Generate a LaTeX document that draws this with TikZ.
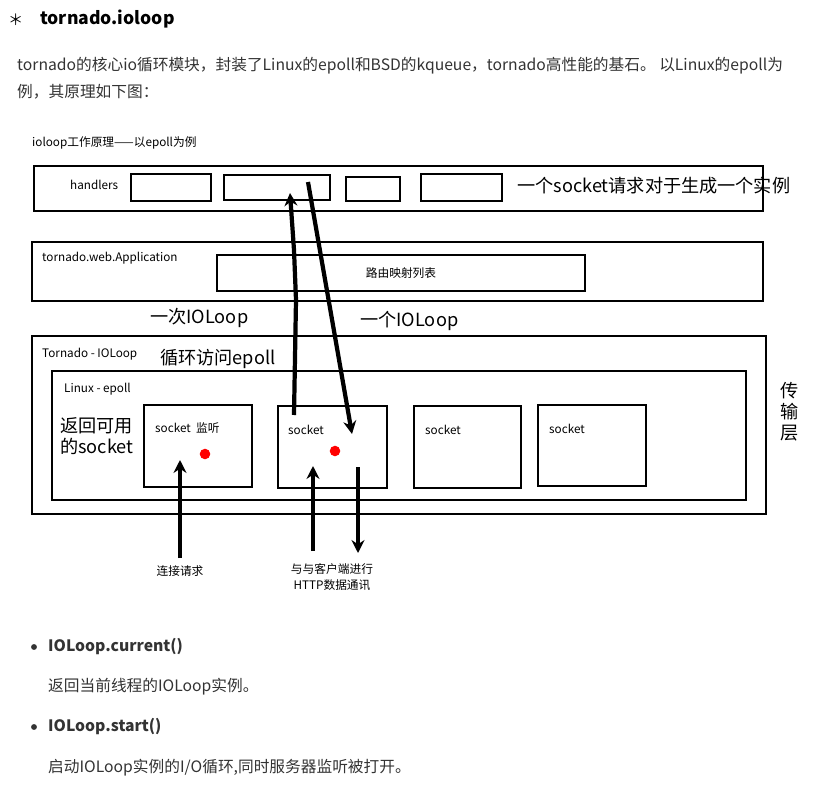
\documentclass[tikz,border=0pt]{standalone}
\usepackage{fontspec}
\setmainfont{Noto Sans CJK SC}
\usetikzlibrary{arrows.meta}

\begin{document}
\begin{tikzpicture}[x=0.03cm, y=-0.03cm]

% styles for boxes, texts and the hand drawn arrows
\tikzset{
  box/.style={draw=black, line width=1.2pt},
  tag/.style={anchor=west, inner sep=0pt, font=\fontsize{10}{12}\selectfont},
  big/.style={anchor=west, inner sep=0pt, font=\fontsize{15.5}{18}\selectfont},
  body/.style={anchor=west, inner sep=0pt, text=black!80, font=\fontsize{13.4}{15}\selectfont},
  push/.style={line width=3.6pt, -{Stealth[length=11pt, width=11pt]}},
  dot/.style={circle, fill=red, inner sep=0pt, minimum size=9pt}
}

\useasboundingbox (0,0) rectangle (837,787);

% page heading and text
\node[anchor=west, inner sep=0pt, font=\fontsize{13}{15}\selectfont] (star) at (8,20) {＊};
\node[anchor=west, inner sep=0pt, font=\bfseries\fontsize{15}{18}\selectfont] (title) at (40,19) {tornado.ioloop};
\node[body] (p1) at (17,66) {tornado的核心io循环模块，封装了Linux的epoll和BSD的kqueue，tornado高性能的基石。 以Linux的epoll为};
\node[body] (p2) at (17,92) {例，其原理如下图：};

% diagram
\node[tag] (cap) at (32,143) {ioloop工作原理——以epoll为例};

\draw[box] (34,166) rectangle (763,211);
\node[tag] (hand) at (70,185) {handlers};
\draw[box] (131,174) rectangle (211,201);
\draw[box] (224,175) rectangle (330,200);
\draw[box] (346,177) rectangle (400,201);
\draw[box] (421,174) rectangle (502,201);
\node[big] (inst) at (517,186) {一个socket请求对于生成一个实例};

\draw[box] (32,242) rectangle (763,301);
\node[tag] (app) at (42,258) {tornado.web.Application};
\draw[box] (217,255) rectangle (585,291);
\node[inner sep=0pt, font=\fontsize{10}{12}\selectfont] (route) at (401,273) {路由映射列表};

\node[big] (once) at (150,318) {一次IOLoop};
\node[big] (one) at (360,321) {一个IOLoop};

\draw[box] (32,336) rectangle (766,514);
\node[tag] (tio) at (42,354) {Tornado - IOLoop};
\node[big] (loop) at (160,359) {循环访问epoll};

\draw[box] (52,371) rectangle (746,500);
\node[tag] (lin) at (64,389) {Linux - epoll};
\node[big, align=left] (ret) at (60,436) {返回可用\\的socket};

\draw[box] (144,405) rectangle (252,487);
\node[tag] (s1) at (155,428) {socket\ \ 监听};
\node[dot] (d1) at (205,454) {};
\draw[box] (278,406) rectangle (387,488);
\node[tag] (s2) at (288,430) {socket};
\node[dot] (d2) at (335,451) {};
\draw[box] (414,406) rectangle (521,488);
\node[tag] (s3) at (425,430) {socket};
\draw[box] (538,405) rectangle (646,486);
\node[tag] (s4) at (549,429) {socket};

\node[big, align=center] (layer) at (780,412) {传\\输\\层};

% arrows
\coordinate (a1) at (180,558); \coordinate (b1) at (180,460);
\coordinate (a2) at (313,551); \coordinate (b2) at (313,466);
\coordinate (a3) at (358,467); \coordinate (b3) at (358,553);
\coordinate (a4) at (294,415); \coordinate (b4) at (290,193);
\coordinate (a5) at (308,182); \coordinate (b5) at (352,434);
\draw[push] (a1) -- (b1);
\draw[push] (a2) -- (b2);
\draw[push] (a3) -- (b3);
\draw[push] (a4) -- (296,300) -- (294,250) -- (b4);
\draw[push] (a5) -- (b5);

\node[inner sep=0pt, font=\fontsize{10}{12}\selectfont] (conn) at (180,571) {连接请求};
\node[inner sep=0pt, align=center, font=\fontsize{10}{13}\selectfont] (http) at (332,577) {与与客户端进行\\HTTP数据通讯};

% list below
\node[circle, fill=black!80, inner sep=0pt, minimum size=5pt] (u1) at (34,647) {};
\node[anchor=west, inner sep=0pt, text=black!80, font=\bfseries\fontsize{13.4}{15}\selectfont] (cur) at (48,647) {IOLoop.current()};
\node[body] (cd) at (48,687) {返回当前线程的IOLoop实例。};
\node[circle, fill=black!80, inner sep=0pt, minimum size=5pt] (u2) at (34,727) {};
\node[anchor=west, inner sep=0pt, text=black!80, font=\bfseries\fontsize{13.4}{15}\selectfont] (st) at (48,727) {IOLoop.start()};
\node[body] (sd) at (48,768) {启动IOLoop实例的I/O循环,同时服务器监听被打开。};

\end{tikzpicture}
\end{document}
